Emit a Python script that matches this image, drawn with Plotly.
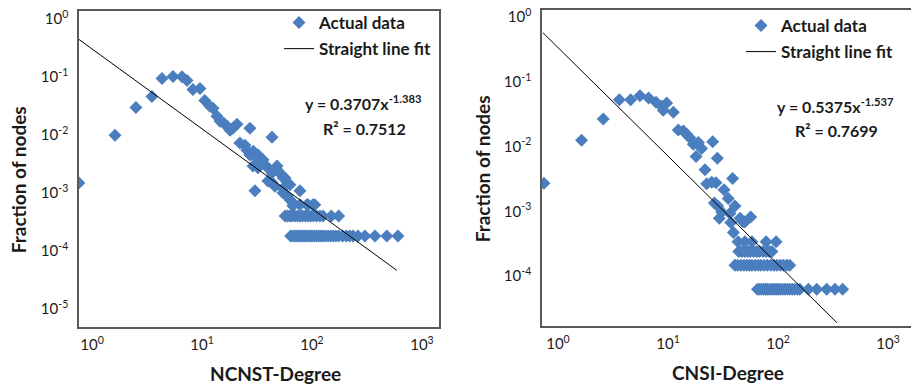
import plotly.graph_objects as go

# ---------------- data ----------------
ncnst_deg = [0.76, 1.62, 2.51, 3.51, 4.33, 5.45, 6.58, 7.31, 8.28, 9.59, 10.6, 11.8, 12.6, 13.7,
             14.6, 15.8, 16.9, 18.0, 19.1, 20.8, 27.3, 43.3, 22.1, 24.6, 25.6, 27.3, 30.3, 31.6,
             33.7, 35.9, 37.4, 29.1, 32.3, 39.8, 43.3, 48.1, 49.1, 53.4, 56.9, 39.8, 43.3, 46.1,
             54.5, 63.1, 77.8, 30.3, 54.5, 59.3, 63.1, 67.2, 77.8, 90, 102, 67, 29.3, 32.4, 54.8,
             92, 106,
             57, 60, 63, 66, 70, 74, 78, 82, 87, 92, 97, 103, 110, 118, 126, 150, 175,
             64, 67, 70, 73, 76, 79, 82, 85, 88, 92, 96, 100, 105, 110, 115, 120, 126, 132, 140,
             148, 156, 165, 175, 190, 205, 220, 236, 262, 303, 374, 479, 605]
ncnst_frac = [1.48e-3, 9.8e-3, 0.0297, 0.0459, 0.0935, 0.101, 0.1, 0.0865, 0.0605, 0.063, 0.0392,
              0.031, 0.0286, 0.0209, 0.0171, 0.0158, 0.0141, 0.012, 0.013, 0.0152, 0.013, 9.1e-3,
              7.2e-3, 6.6e-3, 5.4e-3, 4.5e-3, 4.8e-3, 4.0e-3, 3.5e-3, 3.7e-3, 3.0e-3, 2.9e-3,
              2.7e-3, 2.7e-3, 2.2e-3, 2.9e-3, 2.4e-3, 2.0e-3, 1.8e-3, 1.6e-3, 1.5e-3, 1.3e-3,
              1.2e-3, 1.37e-3, 1.08e-3, 1.08e-3, 1.0e-3, 8.9e-4, 7.6e-4, 6.7e-4, 6.2e-4, 6.2e-4,
              6.2e-4, 6.0e-4, 5.2e-3, 4.5e-3, 1.8e-3, 6.2e-4, 6.2e-4] \
    + [3.97e-4] * 17 + [1.8e-4] * 32
ncnst_fit_x = [0.762, 593]
ncnst_fit_y = [0.441, 4.57e-5]

cnsi_deg = [0.746, 1.64, 2.58, 3.61, 4.58, 5.56, 6.67, 7.78, 8.75, 9.73, 9.06, 11.2, 12.4, 13.8,
            14.8, 15.8, 17.0, 18.9, 20.2, 25.5, 18.0, 28.1, 21.7, 22.5, 25.0, 27.3, 38.7, 32.3,
            35.3, 26.4, 28.3, 30.8, 40.6, 29.3, 36.6, 37.2, 45.2, 50.1, 56.5, 39.3, 48,
            43.3, 50, 58, 78, 96,
            44, 47, 50, 53, 56, 60, 64, 68, 73, 78, 83, 88,
            40.6, 43, 46, 49, 52, 55, 58, 62, 66, 70, 75, 80, 86, 92, 98, 105, 112, 120, 128,
            65, 68, 71, 74, 77, 80, 84, 88, 92, 96, 100, 105, 110, 116, 122, 128, 135, 142, 150,
            158, 189, 225, 277, 330, 387]
cnsi_frac = [2.72e-3, 0.0125, 0.0267, 0.0527, 0.0527, 0.0608, 0.056, 0.048, 0.0418, 0.047, 0.0363,
             0.0339, 0.018, 0.0173, 0.0154, 0.0137, 0.0108, 0.0115, 9.3e-3, 0.0118, 7.0e-3, 6.6e-3,
             4.4e-3, 2.66e-3, 2.8e-3, 2.75e-3, 3.2e-3, 2.15e-3, 1.58e-3, 1.35e-3, 1.21e-3, 9.8e-4,
             1.21e-3, 7.8e-4, 9.3e-4, 6.7e-4, 7.8e-4, 6.9e-4, 8.2e-4, 4.7e-4, 6.9e-4] \
    + [3.4e-4] * 5 + [2.4e-4] * 12 + [1.47e-4] * 19 + [6.27e-5] * 25
cnsi_fit_x = [0.73, 344]
cnsi_fit_y = [0.57, 1.91e-5]

x_tick_vals = [1, 10, 100, 1000]
x_tick_text = ["10<sup>0</sup>", "10<sup>1</sup>", "10<sup>2</sup>", "10<sup>3</sup>"]
y_tick_vals_left = [1, 0.1, 0.01, 0.001, 1e-4, 1e-5]
y_tick_text_left = ["10<sup>0</sup>", "10<sup>-1</sup>", "10<sup>-2</sup>", "10<sup>-3</sup>",
                    "10<sup>-4</sup>", "10<sup>-5</sup>"]
y_tick_vals_right = [1, 0.1, 0.01, 0.001, 1e-4]
y_tick_text_right = ["10<sup>0</sup>", "10<sup>-1</sup>", "10<sup>-2</sup>", "10<sup>-3</sup>",
                     "10<sup>-4</sup>"]

# ---------------- styling ----------------
W, H = 911, 386
BLUE = "#4A7EBF"
BORDER = "#595959"
FONT = "Lato"


def px_x(p):
    return p / W


def px_y(p):
    return 1 - p / H


fig = go.Figure()

marker = dict(symbol="diamond", size=10, color=BLUE, line=dict(width=0))

fig.add_trace(go.Scatter(x=ncnst_deg, y=ncnst_frac, mode="markers", marker=marker,
                         name="<b>Actual data</b>", xaxis="x", yaxis="y",
                         legend="legend", legendgroup="a"))
fig.add_trace(go.Scatter(x=ncnst_fit_x, y=ncnst_fit_y, mode="lines",
                         line=dict(color="black", width=1),
                         name="<b>Straight line fit</b>", xaxis="x", yaxis="y",
                         legend="legend", legendgroup="b"))
fig.add_trace(go.Scatter(x=cnsi_deg, y=cnsi_frac, mode="markers", marker=marker,
                         name="<b>Actual data</b>", xaxis="x2", yaxis="y2",
                         legend="legend2", legendgroup="c"))
fig.add_trace(go.Scatter(x=cnsi_fit_x, y=cnsi_fit_y, mode="lines",
                         line=dict(color="black", width=1),
                         name="<b>Straight line fit</b>", xaxis="x2", yaxis="y2",
                         legend="legend2", legendgroup="d"))

tickfont = dict(family=FONT, size=15, color="#1a1a1a")
common_x = dict(type="log", tickvals=x_tick_vals, ticktext=x_tick_text, showgrid=False,
                zeroline=False, ticks="", showline=True, linecolor=BORDER, linewidth=1.5,
                tickfont=tickfont, ticklabelstandoff=4)
common_y = dict(type="log", showgrid=False, zeroline=False, ticks="", showline=True,
                linecolor=BORDER, linewidth=1.5, tickfont=tickfont, ticklabelstandoff=6)

legend_font = dict(family=FONT, size=17, color="#1a1a1a")
fig.update_layout(
    width=W, height=H,
    margin=dict(l=0, r=0, t=0, b=0),
    paper_bgcolor="white", plot_bgcolor="white",
    font=dict(family=FONT, color="#1a1a1a"),
    xaxis=dict(common_x, domain=[px_x(79), px_x(439)], range=[-0.118, 3.155], anchor="y",
               mirror=True),
    yaxis=dict(common_y, domain=[px_y(326), px_y(7)], range=[-5.309, 0.137], anchor="x",
               tickvals=y_tick_vals_left, ticktext=y_tick_text_left, mirror=True),
    xaxis2=dict(common_x, domain=[px_x(542), 1.0], range=[-0.145, 3.209], anchor="y2",
                mirror=True),
    yaxis2=dict(common_y, domain=[px_y(325), px_y(6)], range=[-4.763, 0.107], anchor="x2",
                tickvals=y_tick_vals_right, ticktext=y_tick_text_right, mirror=False),
    legend=dict(x=px_x(279), y=px_y(1), xanchor="left", yanchor="top",
                font=legend_font, bgcolor="rgba(0,0,0,0)",
                itemwidth=30, tracegroupgap=1),
    legend2=dict(x=px_x(741), y=px_y(4), xanchor="left", yanchor="top",
                 font=legend_font, bgcolor="rgba(0,0,0,0)",
                 itemwidth=30, tracegroupgap=1),
    showlegend=True,
)

ann_font = dict(family=FONT, size=16, color="#1a1a1a")
title_font = dict(family=FONT, size=19, color="#1a1a1a")
annotations = [
    dict(text="<b>y = 0.3707x<sup>-1.383</sup></b>", x=px_x(363), y=px_y(100)),
    dict(text="<b>R² = 0.7512</b>", x=px_x(364), y=px_y(126)),
    dict(text="<b>y = 0.5375x<sup>-1.537</sup></b>", x=px_x(835), y=px_y(103)),
    dict(text="<b>R² = 0.7699</b>", x=px_x(836), y=px_y(128)),
]
for a in annotations:
    fig.add_annotation(xref="paper", yref="paper", showarrow=False, font=ann_font,
                       xanchor="center", yanchor="middle", **a)

titles = [
    dict(text="<b>NCNST-Degree</b>", x=px_x(275), y=px_y(373), textangle=0),
    dict(text="<b>CNSI-Degree</b>", x=px_x(728), y=px_y(372), textangle=0),
    dict(text="<b>Fraction of nodes</b>", x=px_x(18), y=px_y(178), textangle=-90),
    dict(text="<b>Fraction of nodes</b>", x=px_x(482), y=px_y(167), textangle=-90),
]
for t in titles:
    fig.add_annotation(xref="paper", yref="paper", showarrow=False, font=title_font,
                       xanchor="center", yanchor="middle", **t)

fig.write_html("out.html", config={"displayModeBar": False},
               post_script="document.body.style.margin='0px';document.body.style.overflow='hidden';")
